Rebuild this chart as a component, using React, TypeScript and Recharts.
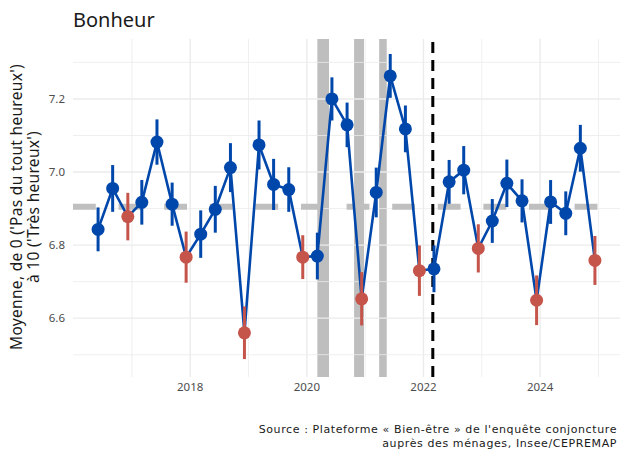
import { ComposedChart, Line, Scatter, ErrorBar, XAxis, YAxis, ReferenceLine, ReferenceArea } from "recharts"

// dates en années décimales (vagues juin, sept., déc., mars)
const dates = [
  2016.42, 2016.67, 2016.93, 2017.17, 2017.43, 2017.69, 2017.93,
  2018.18, 2018.43, 2018.69, 2018.93, 2019.18, 2019.43, 2019.69, 2019.93,
  2020.18, 2020.43, 2020.69, 2020.94, 2021.19, 2021.43, 2021.69, 2021.93,
  2022.18, 2022.44, 2022.69, 2022.94, 2023.18, 2023.43, 2023.69, 2023.94,
  2024.18, 2024.44, 2024.69, 2024.94,
]
const bonheur = [
  6.843, 6.955, 6.878, 6.917, 7.082, 6.912, 6.767,
  6.83, 6.898, 7.012, 6.56, 7.074, 6.966, 6.952, 6.767,
  6.77, 7.2, 7.129, 6.653, 6.944, 7.263, 7.118, 6.73,
  6.735, 6.973, 7.005, 6.791, 6.866, 6.969, 6.921, 6.649,
  6.918, 6.887, 7.065, 6.758,
]
const erreurs = [
  0.06, 0.064, 0.065, 0.061, 0.062, 0.059, 0.07,
  0.065, 0.064, 0.067, 0.072, 0.067, 0.07, 0.061, 0.06,
  0.064, 0.059, 0.061, 0.073, 0.068, 0.06, 0.064, 0.069,
  0.064, 0.06, 0.066, 0.066, 0.06, 0.065, 0.059, 0.068,
  0.06, 0.06, 0.064, 0.067,
]
// vagues de décembre en rouge
const decembre = [
  false, false, true, false, false, false, true,
  false, false, false, true, false, false, false, true,
  false, false, false, true, false, false, false, true,
  false, false, false, true, false, false, false, true,
  false, false, false, true,
]
const confinements = [
  [2020.18, 2020.38],
  [2020.81, 2020.98],
  [2021.24, 2021.37],
]
const moyenne = 6.905
const rupture = 2022.16
const xTicks = [2018, 2020, 2022, 2024]
const xMinor = [2017, 2019, 2021, 2023, 2025]
const yTicks = [6.6, 6.8, 7.0, 7.2]
const yMinor = [6.5, 6.7, 6.9, 7.1, 7.3]

const data = dates.map((x, i) => ({ x, y: bonheur[i], err: erreurs[i], dec: decembre[i] }))
const bleus = data.filter((d) => !d.dec)
const rouges = data.filter((d) => d.dec)

const BLUE = "#0047ab"
const RED = "#c5544a"
const GRID = "#ebebeb"
const FONT = "'Noto Sans', sans-serif"

const dot = (color: string) => (p: any) => <circle cx={p.cx} cy={p.cy} r={6.5} fill={color} />

export default function App() {
  return (
    <div style={{ position: "absolute", left: 0, top: 0, width: 621, height: 450, background: "#fff", fontFamily: FONT }}>
      <ComposedChart width={621} height={450} data={data} margin={{ top: 39, right: 1, bottom: 53, left: 23 }}>
        <XAxis
          dataKey="x"
          type="number"
          domain={[2015.99, 2025.37]}
          ticks={xTicks}
          axisLine={false}
          tickLine={false}
          tickSize={0}
          tickMargin={6}
          height={20}
          tick={{ fill: "#4d4d4d", fontSize: 11.5, fontFamily: FONT }}
        />
        <YAxis
          type="number"
          domain={[6.439, 7.364]}
          ticks={yTicks}
          axisLine={false}
          tickLine={false}
          width={50}
          tickFormatter={(v: number) => v.toFixed(1)}
          tick={{ fill: "#4d4d4d", fontSize: 11.5, fontFamily: FONT }}
        />
        {yMinor.map((v) => (
          <ReferenceLine key={"ym" + v} y={v} stroke={GRID} strokeWidth={0.8} />
        ))}
        {xMinor.map((v) => (
          <ReferenceLine key={"xm" + v} x={v} stroke={GRID} strokeWidth={0.8} />
        ))}
        {yTicks.map((v) => (
          <ReferenceLine key={"y" + v} y={v} stroke={GRID} strokeWidth={1.4} />
        ))}
        {xTicks.map((v) => (
          <ReferenceLine key={"x" + v} x={v} stroke={GRID} strokeWidth={1.4} />
        ))}
        {confinements.map(([a, b]) => (
          <ReferenceArea key={"c" + a} x1={a} x2={b} fill="#bebebe" fillOpacity={1} stroke="none" />
        ))}
        <ReferenceLine y={moyenne} stroke="#bfbfbf" strokeWidth={6} strokeDasharray="22.8 22.8" />
        <ReferenceLine x={rupture} stroke="#000" strokeWidth={3} strokeDasharray="11 7" />
        <Line dataKey="y" stroke={BLUE} strokeWidth={2.6} dot={false} activeDot={false} isAnimationActive={false} />
        <Scatter data={bleus} dataKey="y" fill={BLUE} shape={dot(BLUE)} isAnimationActive={false}>
          <ErrorBar dataKey="err" direction="y" width={0} stroke={BLUE} strokeWidth={3} />
        </Scatter>
        <Scatter data={rouges} dataKey="y" fill={RED} shape={dot(RED)} isAnimationActive={false}>
          <ErrorBar dataKey="err" direction="y" width={0} stroke={RED} strokeWidth={3} />
        </Scatter>
      </ComposedChart>
      <svg width={621} height={450} style={{ position: "absolute", left: 0, top: 0, pointerEvents: "none" }}>
        <text x={73} y={27} fontSize={20} fill="#1a1a1a" fontFamily={FONT}>
          Bonheur
        </text>
        <g transform="translate(22,207) rotate(-90)" fontSize={15.5} letterSpacing={0.3} fill="#1a1a1a" fontFamily={FONT}>
          <text x={0} y={0} textAnchor="middle">
            Moyenne, de 0 ('Pas du tout heureux')
          </text>
          <text x={0} y={17} textAnchor="middle">
            à 10 ('Très heureux')
          </text>
        </g>
        <g fontSize={11} letterSpacing={0.6} fill="#1a1a1a" fontFamily="'DejaVu Sans', sans-serif" textAnchor="end">
          <text x={617} y={433}>
            Source : Plateforme « Bien-être » de l'enquête conjoncture
          </text>
          <text x={617} y={447}>
            auprès des ménages, Insee/CEPREMAP
          </text>
        </g>
      </svg>
    </div>
  )
}
